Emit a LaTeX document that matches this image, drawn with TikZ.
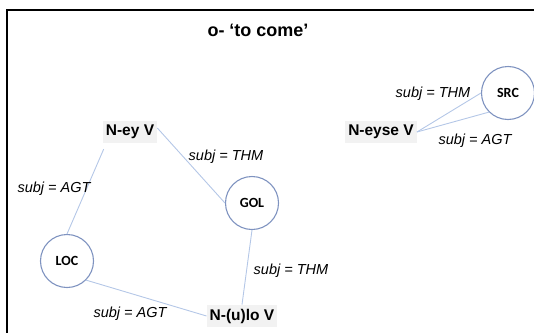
\documentclass[tikz,border=0pt]{standalone}
\usepackage{fontspec}
\setmainfont{Liberation Sans}
\newfontfamily\carlito{Carlito}
\definecolor{circlecol}{HTML}{7F93C0}
\definecolor{linecol}{HTML}{B4C7E7}
\definecolor{boxfill}{HTML}{F2F2F2}
\begin{document}
\begin{tikzpicture}[x=1pt,y=-1pt,
  rolecirc/.style={circle,draw=circlecol,line width=1.1pt,minimum size=53pt,inner sep=0pt,
    font=\carlito\bfseries\fontsize{14}{16}\selectfont},
  formbox/.style={fill=boxfill,inner xsep=3pt,inner ysep=4pt,
    font=\bfseries\fontsize{15.5}{18}\selectfont},
  rel/.style={font=\itshape\fontsize{14.5}{17}\selectfont,inner sep=0pt},
  conn/.style={draw=linecol,line width=0.9pt}]
\useasboundingbox (0,0) rectangle (534,332);
\begin{scope}
\clip (0,0) rectangle (534,332);
\draw[line width=2pt] (6.5,345) -- (6.5,9.5) -- (545,9.5);
\end{scope}
\node[font=\bfseries\fontsize{18}{21}\selectfont] (title) at (258,30) {o- ‘to come’};
% nodes
\node[formbox] (ney) at (130,132) {N-ey V};
\node[formbox] (neyse) at (381,132) {N-eyse V};
\node[formbox] (nulo) at (242,316) {N-(u)lo V};
\node[rolecirc] (src) at (508,93) {SRC};
\node[rolecirc] (gol) at (252,203) {GOL};
\node[rolecirc] (loc) at (67,261) {LOC};
% connectors
\draw[conn] (loc.north) -- ([xshift=1pt,yshift=-6pt]ney.south west);
\draw[conn] ([yshift=4pt]ney.east) -- (gol.west);
\draw[conn] (gol.south) -- (nulo.north);
\draw[conn] (loc.south east) -- (nulo.west);
\draw[conn] (src.west) -- (neyse.east);
\draw[conn] (src.south west) -- (neyse.east);
% labels
\node[rel] (l1) at (433,94) {subj = THM};
\node[rel] (l2) at (475,141) {subj = AGT};
\node[rel] (l3) at (226,157) {subj = THM};
\node[rel] (l4) at (54,189) {subj = AGT};
\node[rel] (l5) at (291,271) {subj = THM};
\node[rel] (l6) at (130,314) {subj = AGT};
\end{tikzpicture}
\end{document}
